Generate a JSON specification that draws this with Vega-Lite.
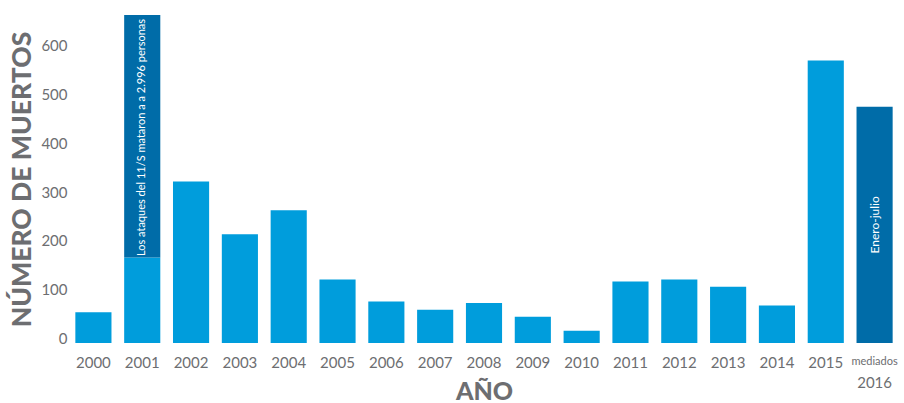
{
  "$schema": "https://vega.github.io/schema/vega-lite/v6.json",
  "width": 830,
  "height": 328,
  "autosize": "none",
  "padding": {"left": 69, "top": 15, "right": 5, "bottom": 60},
  "background": "white",
  "config": {"view": {"stroke": null}},
  "data": {
    "values": [
      {"anio": "2000", "parte": "otros", "muertos": 63, "nota": ""},
      {"anio": "2001", "parte": "otros", "muertos": 175, "nota": ""},
      {"anio": "2001", "parte": "11S", "muertos": 2996, "nota": "Los ataques del 11/S mataron a  a 2.996 personas"},
      {"anio": "2002", "parte": "otros", "muertos": 331, "nota": ""},
      {"anio": "2003", "parte": "otros", "muertos": 223, "nota": ""},
      {"anio": "2004", "parte": "otros", "muertos": 272, "nota": ""},
      {"anio": "2005", "parte": "otros", "muertos": 130, "nota": ""},
      {"anio": "2006", "parte": "otros", "muertos": 85, "nota": ""},
      {"anio": "2007", "parte": "otros", "muertos": 68, "nota": ""},
      {"anio": "2008", "parte": "otros", "muertos": 82, "nota": ""},
      {"anio": "2009", "parte": "otros", "muertos": 54, "nota": ""},
      {"anio": "2010", "parte": "otros", "muertos": 25, "nota": ""},
      {"anio": "2011", "parte": "otros", "muertos": 126, "nota": ""},
      {"anio": "2012", "parte": "otros", "muertos": 130, "nota": ""},
      {"anio": "2013", "parte": "otros", "muertos": 115, "nota": ""},
      {"anio": "2014", "parte": "otros", "muertos": 77, "nota": ""},
      {"anio": "2015", "parte": "otros", "muertos": 579, "nota": ""},
      {"anio": "mediados 2016", "parte": "2016", "muertos": 484, "nota": "Enero-julio"}
    ]
  },
  "layer": [
    {
      "mark": {"type": "bar", "clip": true},
      "encoding": {
        "x": {
          "field": "anio",
          "type": "nominal",
          "sort": null,
          "scale": {"paddingInner": 0.26, "paddingOuter": 0.13},
          "axis": {
            "orient": "bottom",
            "domain": false,
            "ticks": false,
            "grid": false,
            "labelAngle": 0,
            "labelPadding": 12,
            "labelColor": "#6d6e71",
            "labelFont": "Lato",
            "labelFontSize": {"condition": {"test": "datum.value == 'mediados 2016'", "value": 11}, "value": 15},
            "labelExpr": "datum.value == 'mediados 2016' ? 'mediados' : datum.value",
            "title": "AÑO",
            "titleFont": "Lato",
            "titleFontSize": 25,
            "titleFontWeight": 900,
            "titleColor": "#6d6e71",
            "titleBaseline": "alphabetic",
            "titleY": 56
          }
        },
        "y": {
          "field": "muertos",
          "type": "quantitative",
          "stack": "zero",
          "scale": {"domain": [0, 672], "nice": false},
          "axis": {
            "orient": "left",
            "values": [0, 100, 200, 300, 400, 500, 600],
            "domain": false,
            "ticks": false,
            "grid": false,
            "labelPadding": 2,
            "labelOffset": -4.5,
            "labelColor": "#6d6e71",
            "labelFont": "Lato",
            "labelFontSize": 15,
            "title": "NÚMERO DE MUERTOS",
            "titleFont": "Lato",
            "titleFontSize": 26.5,
            "titleFontWeight": 900,
            "titleColor": "#6d6e71",
            "titleBaseline": "middle",
            "titleX": -47
          }
        },
        "color": {
          "field": "parte",
          "type": "nominal",
          "scale": {"domain": ["otros", "11S", "2016"], "range": ["#009ddc", "#006ca8", "#006ca8"]},
          "legend": null
        },
        "order": {"field": "parte", "sort": "descending"}
      }
    },
    {
      "transform": [{"filter": "datum.anio == '2001' && datum.parte == '11S'"}],
      "mark": {"type": "text", "angle": 270, "align": "right", "baseline": "middle", "color": "white", "font": "Lato", "fontSize": 11},
      "encoding": {
        "x": {"field": "anio", "type": "nominal", "sort": null, "axis": null},
        "y": {"datum": 664, "type": "quantitative", "axis": null},
        "text": {"field": "nota"}
      }
    },
    {
      "transform": [{"filter": "datum.anio == 'mediados 2016'"}],
      "mark": {"type": "text", "angle": 270, "align": "center", "baseline": "middle", "color": "white", "font": "Lato", "fontSize": 12},
      "encoding": {
        "x": {
          "field": "anio",
          "type": "nominal",
          "sort": null,
          "axis": {
            "orient": "bottom",
            "offset": 20,
            "domain": false,
            "ticks": false,
            "grid": false,
            "labelAngle": 0,
            "labelPadding": 12,
            "labelColor": "#6d6e71",
            "labelFont": "Lato",
            "labelFontSize": 15,
            "labelExpr": "datum.value == 'mediados 2016' ? '2016' : ''",
            "title": null
          }
        },
        "y": {"datum": 242, "type": "quantitative", "axis": null},
        "text": {"field": "nota"}
      }
    }
  ],
  "resolve": {"axis": {"x": "independent", "y": "independent"}}
}
